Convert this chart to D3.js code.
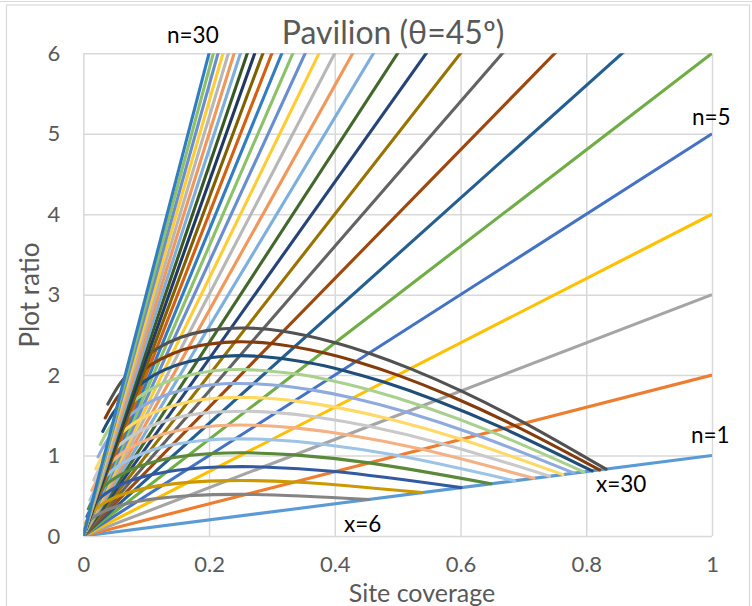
<!DOCTYPE html>
<html>
<head>
<meta charset="utf-8">
<script src="https://cdn.jsdelivr.net/npm/d3@7"></script>
<style>
  body { margin: 0; background: #fff; }
  svg { display: block; }
  text { font-family: Lato, "Open Sans", sans-serif; }
</style>
</head>
<body>
<svg id="chart" width="752" height="606"></svg>
<script>
// Storey counts n for the straight plot-ratio lines (plot ratio = n x site coverage)
const storeyCounts = [1, 2, 3, 4, 5, 6, 7, 8, 9, 10, 11, 12, 13, 14, 15,
                      16, 17, 18, 19, 20, 21, 22, 23, 24, 25, 26, 27, 28, 29, 30];
// Site size x for each pavilion curve
const siteWidths = [6, 8, 10, 12, 14, 16, 18, 20, 22, 24, 26, 28, 30];

const xTicks = [0, 0.2, 0.4, 0.6, 0.8, 1];
const yTicks = [0, 1, 2, 3, 4, 5, 6];

// Pavilion curves: [site coverage, plot ratio] pairs
const x6  = [[0.4545,0.454],[0.2585,0.517],[0.1666,0.500],[0.1162,0.465],[0.0857,0.428],[0.0657,0.394],[0.0422,0.338],[0.0294,0.294],[0.0189,0.245],[0.0131,0.210],[0.0088,0.176],[0.0058,0.146],[0.0037,0.118],[0.0022,0.093]];
const x8  = [[0.5387,0.539],[0.3361,0.672],[0.2295,0.688],[0.1666,0.666],[0.1264,0.632],[0.0992,0.595],[0.0657,0.526],[0.0468,0.468],[0.0306,0.398],[0.0216,0.346],[0.0147,0.294],[0.0099,0.247],[0.0063,0.202],[0.0038,0.160]];
const x10 = [[0.6009,0.601],[0.4006,0.801],[0.2860,0.858],[0.2143,0.857],[0.1666,0.833],[0.1332,0.799],[0.0907,0.726],[0.0657,0.657],[0.0439,0.571],[0.0314,0.503],[0.0216,0.433],[0.0147,0.367],[0.0095,0.303],[0.0058,0.242]];
const x12 = [[0.6486,0.649],[0.4545,0.909],[0.3361,1.008],[0.2585,1.034],[0.2051,1.025],[0.1666,1.000],[0.1162,0.930],[0.0857,0.857],[0.0583,0.758],[0.0422,0.676],[0.0294,0.588],[0.0202,0.504],[0.0131,0.420],[0.0080,0.338]];
const x14 = [[0.6862,0.686],[0.5000,1.000],[0.3804,1.141],[0.2991,1.196],[0.2413,1.207],[0.1988,1.193],[0.1416,1.133],[0.1060,1.060],[0.0733,0.953],[0.0537,0.860],[0.0378,0.756],[0.0262,0.655],[0.0172,0.550],[0.0106,0.446]];
const x16 = [[0.7167,0.717],[0.5387,1.077],[0.4196,1.259],[0.3361,1.344],[0.2752,1.376],[0.2295,1.377],[0.1666,1.333],[0.1264,1.264],[0.0888,1.154],[0.0657,1.052],[0.0468,0.935],[0.0327,0.817],[0.0216,0.692],[0.0135,0.566]];
const x18 = [[0.7417,0.742],[0.5720,1.144],[0.4545,1.363],[0.3698,1.479],[0.3067,1.534],[0.2585,1.551],[0.1909,1.527],[0.1467,1.467],[0.1044,1.358],[0.0781,1.250],[0.0561,1.122],[0.0396,0.989],[0.0264,0.844],[0.0166,0.696]];
const x20 = [[0.7628,0.763],[0.6009,1.202],[0.4856,1.457],[0.4006,1.602],[0.3361,1.680],[0.2860,1.716],[0.2143,1.715],[0.1666,1.666],[0.1201,1.562],[0.0907,1.452],[0.0657,1.315],[0.0468,1.169],[0.0314,1.006],[0.0199,0.835]];
const x22 = [[0.7806,0.781],[0.6263,1.253],[0.5135,1.541],[0.4287,1.715],[0.3633,1.816],[0.3118,1.871],[0.2369,1.895],[0.1861,1.861],[0.1358,1.765],[0.1035,1.655],[0.0756,1.513],[0.0542,1.355],[0.0367,1.175],[0.0234,0.983]];
const x24 = [[0.7960,0.796],[0.6486,1.297],[0.5387,1.616],[0.4545,1.818],[0.3886,1.943],[0.3361,2.016],[0.2585,2.068],[0.2051,2.051],[0.1513,1.967],[0.1162,1.860],[0.0857,1.713],[0.0619,1.546],[0.0422,1.351],[0.0271,1.138]];
const x26 = [[0.8094,0.809],[0.6685,1.337],[0.5614,1.684],[0.4782,1.913],[0.4121,2.061],[0.3589,2.153],[0.2793,2.234],[0.2235,2.235],[0.1666,2.166],[0.1290,2.064],[0.0958,1.916],[0.0697,1.742],[0.0479,1.533],[0.0309,1.300]];
const x28 = [[0.8211,0.821],[0.6862,1.372],[0.5821,1.746],[0.5000,2.000],[0.4340,2.170],[0.3804,2.282],[0.2991,2.393],[0.2413,2.413],[0.1816,2.361],[0.1416,2.266],[0.1060,2.120],[0.0776,1.941],[0.0537,1.719],[0.0349,1.467]];
const x30 = [[0.8315,0.831],[0.7022,1.404],[0.6009,1.803],[0.5201,2.080],[0.4545,2.272],[0.4006,2.403],[0.3180,2.544],[0.2585,2.585],[0.1964,2.553],[0.1542,2.467],[0.1162,2.324],[0.0857,2.142],[0.0597,1.910],[0.0391,1.640]];

const curves = [x6, x8, x10, x12, x14, x16, x18, x20, x22, x24, x26, x28, x30];

const lineColors = ["#5B9BD5","#ED7D31","#A5A5A5","#FFC000","#4472C4","#70AD47",
                    "#255E91","#9E480E","#636363","#997300","#264478","#43682B",
                    "#7CAFDD","#F1975A","#B7B7B7","#FFCD33","#698ED0","#8CC168",
                    "#327DC2","#D26012","#7F6000","#203864","#385723","#7CAFDD",
                    "#F1975A","#B7B7B7","#FFCD33","#698ED0","#8CC168","#327DC2"];
const curveColors = ["#848484","#CC9A00","#335AA1","#5A8A39","#9DC3E6","#F4B183",
                     "#C9C9C9","#FFD966","#8FAADC","#A9D18E","#1F4E79","#843C0C","#525252"];

const svg = d3.select("#chart");
const W = 752, H = 606;
const plot = { left: 83.3, right: 712, top: 53.3, bottom: 536 };

const x = d3.scaleLinear().domain([0, 1]).range([plot.left, plot.right]);
const y = d3.scaleLinear().domain([0, 6]).range([plot.bottom, plot.top]);

// chart-area frame
svg.append("line").attr("x1", 0).attr("x2", W).attr("y1", 1.5).attr("y2", 1.5)
  .attr("stroke", "#d9d9d9").attr("stroke-width", 1);
svg.append("rect").attr("x", 6.5).attr("y", 5).attr("width", 743).attr("height", 620)
  .attr("fill", "none").attr("stroke", "#d9d9d9").attr("stroke-width", 1.2);

// gridlines and tick labels
const yAxis = svg.append("g").attr("transform", `translate(${plot.left},0)`)
  .call(d3.axisLeft(y).tickValues(yTicks).tickFormat(d3.format("d"))
    .tickSize(-(plot.right - plot.left)).tickPadding(23));
const xAxis = svg.append("g").attr("transform", `translate(0,${plot.bottom})`)
  .call(d3.axisBottom(x).tickValues(xTicks).tickFormat(d => d === 0 || d === 1 ? String(d) : d.toFixed(1))
    .tickSize(-(plot.bottom - plot.top)).tickPadding(20));
[xAxis, yAxis].forEach(g => {
  g.select(".domain").remove();
  g.selectAll(".tick line").attr("stroke", "#d9d9d9").attr("stroke-width", 1.5);
  g.selectAll(".tick text").attr("fill", "#595959").style("font-size", "22px")
    .style("font-family", "Lato, sans-serif");
});

// series
svg.append("clipPath").attr("id", "plotClip").append("rect")
  .attr("x", plot.left).attr("y", plot.top)
  .attr("width", plot.right - plot.left).attr("height", plot.bottom - plot.top);

const series = svg.append("g").attr("clip-path", "url(#plotClip)");
const straight = d3.line().x(d => x(d[0])).y(d => y(d[1]));
const smooth = d3.line().x(d => x(d[0])).y(d => y(d[1])).curve(d3.curveCatmullRom.alpha(0.5));

function drawStoreyLines(list) {
  list.forEach(n => {
    series.append("path")
      .datum([[0, 0], [1, n]])
      .attr("d", straight)
      .attr("fill", "none")
      .attr("stroke", lineColors[n - 1])
      .attr("stroke-width", 3.1);
  });
}

drawStoreyLines(storeyCounts.filter(n => n <= 20));

curves.forEach((pts, i) => {
  series.append("path")
    .datum(pts)
    .attr("d", smooth)
    .attr("fill", "none")
    .attr("stroke", curveColors[i])
    .attr("stroke-width", 3.1)
    .attr("stroke-linecap", "round");
});

drawStoreyLines(storeyCounts.filter(n => n > 20));

// title and axis titles
svg.append("text").attr("x", 393).attr("y", 44).attr("text-anchor", "middle")
  .attr("fill", "#595959").style("font-size", "32px").text("Pavilion (θ=45º)");
svg.append("text").attr("x", 422).attr("y", 602).attr("text-anchor", "middle")
  .attr("fill", "#595959").style("font-size", "25px").text("Site coverage");
svg.append("text").attr("transform", "translate(39,295) rotate(-90)").attr("text-anchor", "middle")
  .attr("fill", "#595959").style("font-size", "26px").text("Plot ratio");

// series annotations
const notes = [
  { t: "n=30", x: 167, y: 43 },
  { t: "n=5",  x: 692, y: 125 },
  { t: "n=1",  x: 691, y: 443 },
  { t: `x=${siteWidths[siteWidths.length - 1]}`, x: 596, y: 492 },
  { t: `x=${siteWidths[0]}`,  x: 344, y: 532 }
];
svg.selectAll("text.note").data(notes).enter().append("text")
  .attr("class", "note").attr("x", d => d.x).attr("y", d => d.y)
  .attr("fill", "#000").style("font-size", "22.5px").text(d => d.t);
</script>
</body>
</html>
